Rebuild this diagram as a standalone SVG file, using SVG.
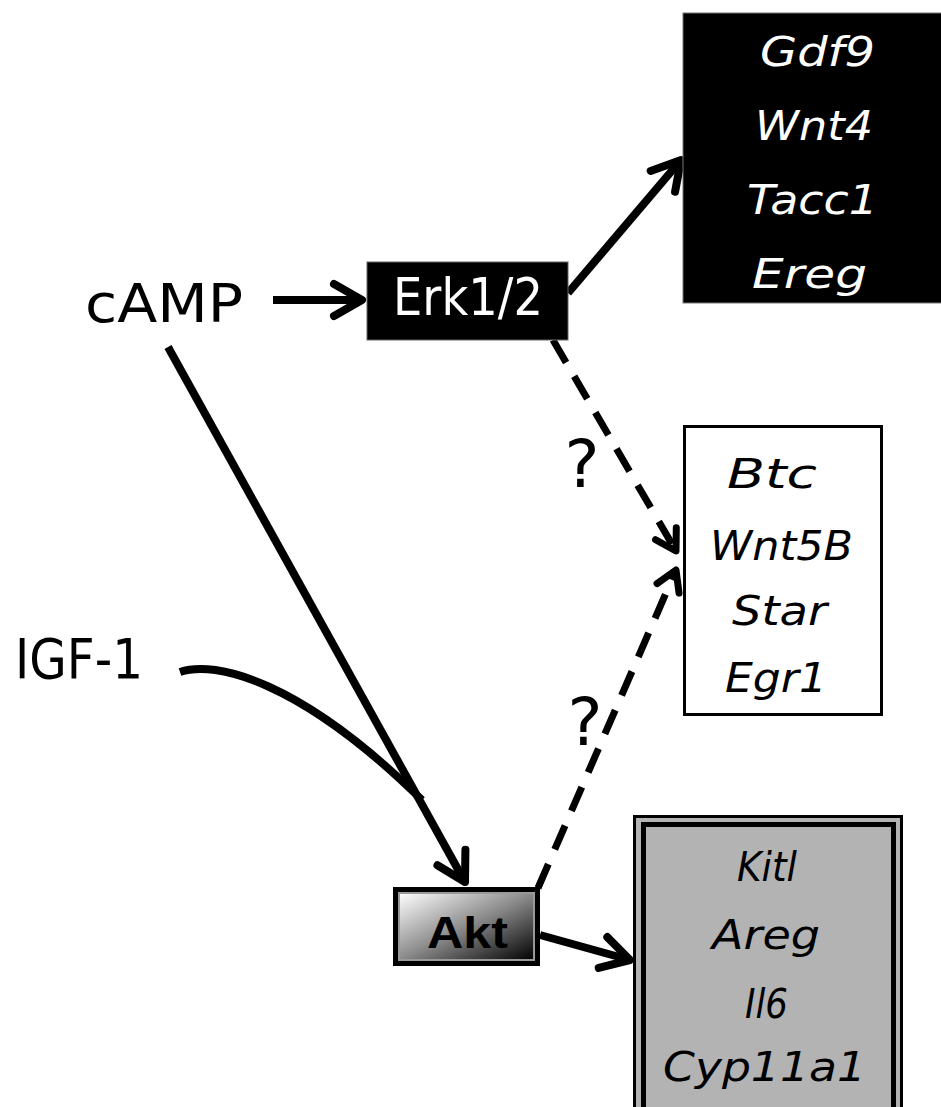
<svg xmlns="http://www.w3.org/2000/svg" width="941" height="1107" viewBox="0 0 941 1107">
<style>
  .lbl { font-family: "DejaVu Sans", "Liberation Sans", sans-serif; fill: #000; }
  .gene { font-family: "DejaVu Sans", "Liberation Sans", sans-serif; font-style: italic; font-size: 41px; }
  .w { fill: #fff; }
  .k { fill: #000; }
  .edge { fill: none; stroke: #000; stroke-width: 8; stroke-linecap: butt; }
  .dash { fill: none; stroke: #000; stroke-width: 7; stroke-dasharray: 26 16; }
  .q { font-family: "DejaVu Sans", "Liberation Sans", sans-serif; font-size: 66px; fill: #000; }
</style>
<defs>
  <marker id="ah" markerUnits="userSpaceOnUse" viewBox="-40 -25 50 50" markerWidth="50" markerHeight="50" refX="0" refY="0" orient="auto">
    <path d="M-28,-16 L0,0 L-28,16" fill="none" stroke="#000" stroke-width="8" stroke-linecap="round" stroke-linejoin="round" stroke-dasharray="none"/>
  </marker>
  <marker id="ahs" markerUnits="userSpaceOnUse" viewBox="-40 -25 50 50" markerWidth="50" markerHeight="50" refX="0" refY="0" orient="auto">
    <path d="M-20,-12 L0,0 L-20,12" fill="none" stroke="#000" stroke-width="7" stroke-linecap="round" stroke-linejoin="round" stroke-dasharray="none"/>
  </marker>
  <linearGradient id="aktg" x1="0" y1="0" x2="1" y2="1">
    <stop offset="0" stop-color="#ffffff"/>
    <stop offset="0.5" stop-color="#8a8a8a"/>
    <stop offset="1" stop-color="#000000"/>
  </linearGradient>
</defs>

<g id="connectors">
  <line class="edge" x1="273" y1="300" x2="362" y2="300" marker-end="url(#ah)"/>
  <line class="edge" x1="568" y1="293" x2="681" y2="160" marker-end="url(#ah)"/>
  <line class="edge" x1="168" y1="347" x2="465" y2="882" marker-end="url(#ah)"/>
  <path class="edge" d="M180,672 C215,660 300,680 422,800" stroke-width="7"/>
  <line class="edge" x1="540" y1="935" x2="630" y2="960" marker-end="url(#ah)"/>
  <line class="dash" x1="553" y1="340" x2="676" y2="551" marker-end="url(#ahs)"/>
  <line class="dash" x1="538" y1="888" x2="676" y2="570" marker-end="url(#ahs)"/>
</g>

<g id="camp">
  <text class="lbl" x="85" y="322" font-size="54" textLength="158" lengthAdjust="spacingAndGlyphs">cAMP</text>
</g>

<g id="igf1">
  <text class="lbl" x="15" y="678" font-size="56" textLength="128" lengthAdjust="spacingAndGlyphs">IGF-1</text>
</g>

<g id="erk">
  <rect x="367" y="262" width="201" height="78" fill="#000" stroke="#666" stroke-width="1"/>
  <text class="lbl w" x="393" y="315" font-size="51" textLength="150" lengthAdjust="spacingAndGlyphs">Erk1/2</text>
</g>

<g id="genes-erk">
  <rect x="683" y="13" width="262" height="290" fill="#000" stroke="#777" stroke-width="1"/>
  <text class="gene w" x="760" y="66" textLength="115" lengthAdjust="spacingAndGlyphs">Gdf9</text>
  <text class="gene w" x="755" y="140" textLength="118" lengthAdjust="spacingAndGlyphs">Wnt4</text>
  <text class="gene w" x="747" y="214" textLength="131" lengthAdjust="spacingAndGlyphs">Tacc1</text>
  <text class="gene w" x="752" y="288" textLength="115" lengthAdjust="spacingAndGlyphs">Ereg</text>
</g>

<g id="genes-unknown">
  <rect x="684.5" y="426.5" width="197" height="288" fill="#fff" stroke="#000" stroke-width="3"/>
  <text class="gene k" x="727" y="488" textLength="90" lengthAdjust="spacingAndGlyphs">Btc</text>
  <text class="gene k" x="710" y="560" textLength="143" lengthAdjust="spacingAndGlyphs">Wnt5B</text>
  <text class="gene k" x="732" y="625" textLength="95" lengthAdjust="spacingAndGlyphs">Star</text>
  <text class="gene k" x="725" y="692" textLength="102" lengthAdjust="spacingAndGlyphs">Egr1</text>
</g>

<g id="q1">
  <text class="q" x="582" y="487" text-anchor="middle">?</text>
</g>
<g id="q2">
  <text class="q" x="585" y="745" text-anchor="middle">?</text>
</g>

<g id="akt">
  <rect x="395.5" y="889.5" width="142" height="74" fill="#000" stroke="#000" stroke-width="5"/>
  <rect x="399" y="893" width="135" height="67" fill="url(#aktg)" stroke="#999" stroke-width="2"/>
  <text x="427" y="948" font-family="'Liberation Sans', Arial, sans-serif" font-weight="bold" font-size="45" textLength="81" lengthAdjust="spacingAndGlyphs" fill="#000">Akt</text>
</g>

<g id="genes-akt">
  <rect x="634.5" y="816.5" width="267" height="310" fill="#b3b3b3" stroke="#000" stroke-width="3"/>
  <rect x="643.5" y="824.5" width="250" height="300" fill="#b3b3b3" stroke="#000" stroke-width="5"/>
  <text class="gene k" x="737" y="881" textLength="60" lengthAdjust="spacingAndGlyphs">Kitl</text>
  <text class="gene k" x="712" y="949" textLength="108" lengthAdjust="spacingAndGlyphs">Areg</text>
  <text class="gene k" x="745" y="1018" textLength="43" lengthAdjust="spacingAndGlyphs">Il6</text>
  <text class="gene k" x="663" y="1081" textLength="203" lengthAdjust="spacingAndGlyphs">Cyp11a1</text>
</g>
</svg>
